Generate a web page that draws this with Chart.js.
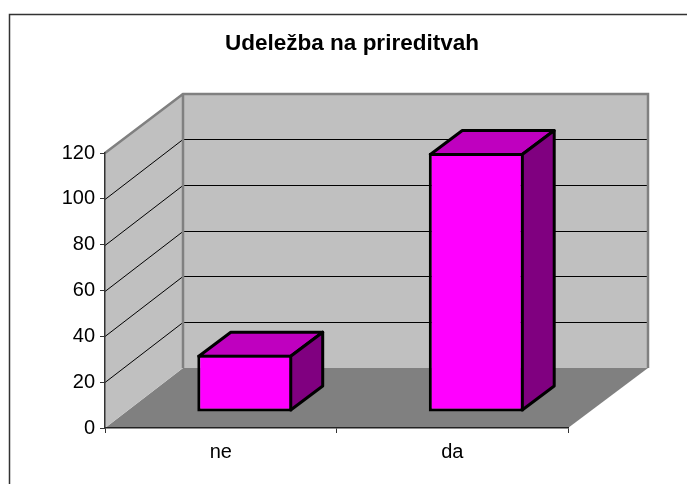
<!DOCTYPE html>
<html>
<head>
<meta charset="utf-8">
<title>Udeležba na prireditvah</title>
<script src="https://cdn.jsdelivr.net/npm/chart.js@4"></script>
<style>
    html, body { margin: 0; padding: 0; background: #fff; overflow: hidden; }
    canvas { display: block; }
</style>
</head>
<body>
<canvas id="chart" width="687" height="484"></canvas>
<script>
// Chart data
const chartTitle = 'Udeležba na prireditvah';
const categories = ['ne', 'da'];
const attendance = [25, 113];
const yMin = 0;
const yMax = 120;
const yStep = 20;

// Fake 3D depth of the chart box and of the bars
const wallDepth = { x: 78, y: -60 };
const backRightDepth = 80;
const barOffset = { x: 24, y: -16 };
const barDepth = { x: 32, y: -24 };
const barBorder = 3;

function polygon(ctx, points, fill, stroke, lineWidth) {
    ctx.beginPath();
    points.forEach((p, i) => i ? ctx.lineTo(p[0], p[1]) : ctx.moveTo(p[0], p[1]));
    ctx.closePath();
    if (fill) {
        ctx.fillStyle = fill;
        ctx.fill();
    }
    if (stroke) {
        ctx.strokeStyle = stroke;
        ctx.lineWidth = lineWidth;
        ctx.lineJoin = 'round';
        ctx.stroke();
    }
}

// Walls, floor and gridlines, all placed from the scales
const box3d = {
    id: 'box3d',
    afterLayout(chart) {
        // title is centred a bit right of the page centre
        chart.titleBlock.left = 17;
        chart.titleBlock.right = 687;
    },
    beforeDraw(chart) {
        const { ctx, scales: { x, y } } = chart;
        const left = x.left, right = x.right;
        const top = y.getPixelForValue(yMax), bottom = y.getPixelForValue(yMin);
        const dx = wallDepth.x, dy = wallDepth.y;
        const backLeft = left + dx, backRight = right + backRightDepth;

        ctx.save();

        // Outer frame, only top and left edges are visible
        ctx.strokeStyle = '#333';
        ctx.lineWidth = 1.5;
        ctx.beginPath();
        ctx.moveTo(9.5, 484);
        ctx.lineTo(9.5, 14.5);
        ctx.lineTo(687, 14.5);
        ctx.stroke();

        polygon(ctx, [[left, bottom], [right, bottom], [backRight, bottom + dy], [backLeft, bottom + dy]], '#808080');
        polygon(ctx, [[left, top], [backLeft, top + dy], [backLeft, bottom + dy], [left, bottom]], '#c0c0c0');
        polygon(ctx, [[backLeft, top + dy], [backRight, top + dy], [backRight, bottom + dy], [backLeft, bottom + dy]], '#c0c0c0');

        // Gridlines run along the side wall and then the back wall
        ctx.strokeStyle = '#000';
        ctx.lineWidth = 1;
        y.ticks.forEach(tick => {
            if (tick.value === yMin || tick.value === yMax) return;
            const py = Math.round(y.getPixelForValue(tick.value)) + 0.5;
            ctx.beginPath();
            ctx.moveTo(left, py);
            ctx.lineTo(backLeft, py + dy);
            ctx.lineTo(backRight, py + dy);
            ctx.stroke();
        });

        // Gray edges of the walls
        ctx.strokeStyle = '#808080';
        ctx.lineWidth = 2.5;
        ctx.beginPath();
        ctx.moveTo(left, top);
        ctx.lineTo(backLeft, top + dy + 1);
        ctx.lineTo(backRight, top + dy + 1);
        ctx.lineTo(backRight, bottom + dy);
        ctx.moveTo(backLeft, top + dy);
        ctx.lineTo(backLeft, bottom + dy);
        ctx.stroke();

        ctx.restore();
    },
    beforeDatasetsDraw(chart) {
        const { ctx } = chart;
        ctx.save();
        ctx.translate(barOffset.x, barOffset.y);

        // Top and side faces of each bar, lined up with the inset front border
        const inset = barBorder / 2;
        chart.getDatasetMeta(0).data.forEach(bar => {
            const { x, y, base, width } = bar.getProps(['x', 'y', 'base', 'width'], true);
            const l = x - width / 2 + inset, r = x + width / 2 - inset;
            const t = y + inset, b = base - inset;
            polygon(ctx, [[l, t], [l + barDepth.x, t + barDepth.y], [r + barDepth.x, t + barDepth.y], [r, t]], '#bf00bf', '#000', barBorder);
            polygon(ctx, [[r, t], [r + barDepth.x, t + barDepth.y], [r + barDepth.x, b + barDepth.y], [r, b]], '#800080', '#000', barBorder);
        });
    },
    afterDatasetsDraw(chart) {
        chart.ctx.restore();
    }
};

Chart.defaults.font.family = '"Liberation Sans", Arial, sans-serif';
Chart.defaults.color = '#000';

new Chart(document.getElementById('chart'), {
    type: 'bar',
    data: {
        labels: categories,
        datasets: [{
            data: attendance,
            backgroundColor: '#ff00ff',
            borderColor: '#000',
            borderWidth: barBorder,
            borderSkipped: false,
            barPercentage: 0.41,
            categoryPercentage: 1,
            clip: false
        }]
    },
    options: {
        responsive: false,
        animation: false,
        layout: { padding: { right: 119 } },
        plugins: {
            legend: { display: false },
            tooltip: { enabled: false },
            title: {
                display: true,
                text: chartTitle,
                color: '#000',
                font: { size: 22.5, weight: 'bold', lineHeight: 1.2 },
                padding: { top: 30, bottom: 96 }
            }
        },
        scales: {
            x: {
                afterFit: scale => { scale.height = 56; },
                grid: { drawOnChartArea: false, tickLength: 5, tickColor: '#333' },
                border: { color: '#222', width: 1.5 },
                ticks: { font: { size: 20 }, padding: 7, maxRotation: 0 }
            },
            y: {
                min: yMin,
                max: yMax,
                afterFit: scale => { scale.width = 105; },
                grid: { drawOnChartArea: false, tickLength: 5, tickColor: '#333' },
                border: { color: '#333', width: 1.5 },
                ticks: { stepSize: yStep, font: { size: 20 }, padding: 5 }
            }
        }
    },
    plugins: [box3d]
});
</script>
</body>
</html>
